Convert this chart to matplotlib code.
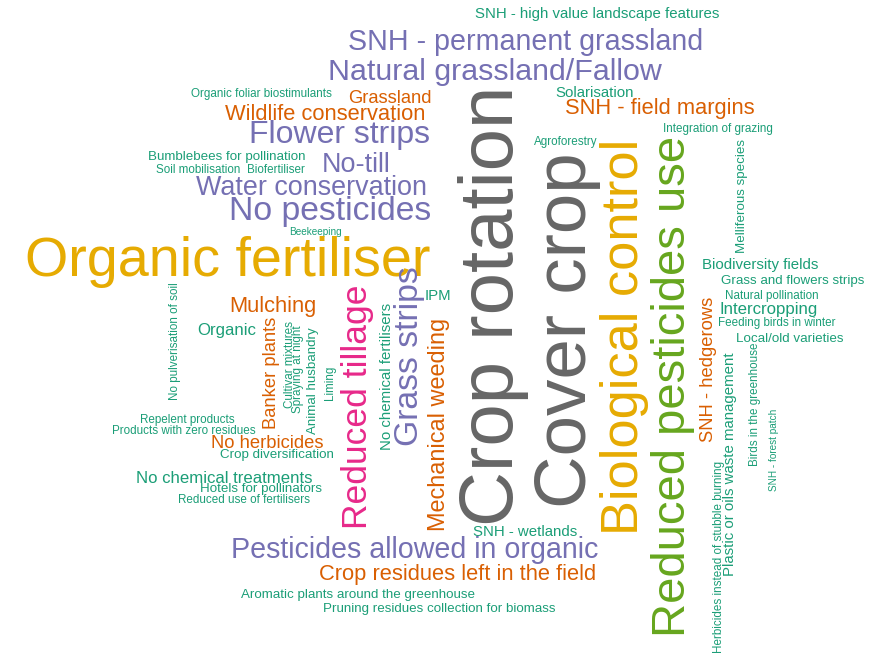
import math

import matplotlib
matplotlib.use("Agg")
import matplotlib.pyplot as plt

W, H = 888, 654
DPI = 100

words = [
    "SNH - high value landscape features", "SNH - permanent grassland", "Natural grassland/Fallow",
    "Organic foliar biostimulants", "Grassland", "Solarisation", "SNH - field margins",
    "Wildlife conservation", "Integration of grazing", "Flower strips", "Agroforestry",
    "Bumblebees for pollination", "No-till", "Soil mobilisation", "Biofertiliser",
    "Water conservation", "No pesticides", "Beekeeping", "Organic fertiliser", "Mulching", "IPM",
    "Organic", "Repelent products", "Products with zero residues", "No herbicides",
    "Crop diversification", "No chemical treatments", "Hotels for pollinators",
    "Reduced use of fertilisers", "SNH - wetlands", "Pesticides allowed in organic",
    "Crop residues left in the field", "Aromatic plants around the greenhouse",
    "Pruning residues collection for biomass", "Biodiversity fields", "Grass and flowers strips",
    "Natural pollination", "Intercropping", "Feeding birds in winter", "Local/old varieties",
    "Crop rotation", "Cover crop", "Biological control", "Reduced pesticides use",
    "Reduced tillage", "Grass strips", "Mechanical weeding", "No chemical fertilisers",
    "Banker plants", "Cultivar mixtures", "Spraying at night", "Animal husbandry", "Liming",
    "No pulverisation of soil", "Melliferous species", "SNH - hedgerows",
    "Plastic or oils waste management", "Herbicides instead of stubble burning",
    "Birds in the greenhouse", "SNH - forest patch",
]
counts = [
    4, 12, 13,
    2, 6, 4, 8,
    8, 2, 14, 2,
    3, 11, 2, 2,
    11, 15, 1, 28, 8, 4,
    5, 2, 2, 6,
    3, 5, 3,
    2, 4, 12,
    8, 3,
    3, 4, 3,
    2, 5, 2, 3,
    40, 38, 26, 23,
    16, 15, 9, 4,
    6, 2, 2, 3, 2,
    2, 3, 6,
    4, 2,
    2, 1,
]

# layout of the cloud: (x centre / baseline, y baseline / centre, vertical), in pixels
layout = [
    (597, 18, False), (526, 50, False), (495, 80, False),
    (261, 97, False), (390, 103, False), (595, 97, False), (660, 114, False),
    (325, 120, False), (718, 132, False), (339, 143, False), (566, 145, False),
    (227, 160, False), (356, 172, False), (198, 173, False), (276, 173, False),
    (311, 195, False), (330, 220, False), (315, 235, False), (228, 276, False), (273, 312, False), (438, 300, False),
    (227, 335, False), (187, 423, False), (184, 434, False), (267, 448, False),
    (277, 458, False), (224, 483, False), (261, 492, False),
    (244, 503, False), (525, 536, False), (415, 558, False),
    (458, 580, False), (358, 598, False),
    (439, 612, False), (760, 269, False), (793, 284, False),
    (772, 299, False), (769, 314, False), (777, 326, False), (790, 342, False),
    (513, 306, True), (586, 330, True), (638, 337, True), (685, 386, True),
    (367, 407, True), (418, 356, True), (445, 424, True), (391, 376, True),
    (276, 373, True), (293, 364, True), (301, 369, True), (316, 381, True), (333, 383, True),
    (178, 341, True), (745, 196, True), (713, 369, True),
    (734, 464, True), (722, 557, True),
    (758, 404, True), (777, 450, True),
]

DARK2 = ["#1B9E77", "#D95F02", "#7570B3", "#E7298A", "#66A61E", "#E6AB02", "#A6761D", "#666666"]
MAX_COUNT = max(counts)


def font_px(n):
    # linear size scale, like wordcloud's scale=c(max, min)
    return (9 + 1.85 * n) / 1.09


def word_colour(n):
    return DARK2[math.ceil(len(DARK2) * n / MAX_COUNT) - 1]


fig = plt.figure(figsize=(W / DPI, H / DPI), dpi=DPI)
ax = fig.add_axes([0, 0, 1, 1])
ax.set_xlim(0, W)
ax.set_ylim(H, 0)
ax.axis("off")

for word, n, (x, y, vertical) in zip(words, counts, layout):
    ax.text(x, y, word, fontsize=font_px(n) * 72 / DPI, color=word_colour(n),
            family=["Liberation Sans", "DejaVu Sans"], rotation=90 if vertical else 0,
            rotation_mode="anchor", ha="center", va="baseline")

fig.savefig("out.png", dpi=DPI, facecolor="white")
